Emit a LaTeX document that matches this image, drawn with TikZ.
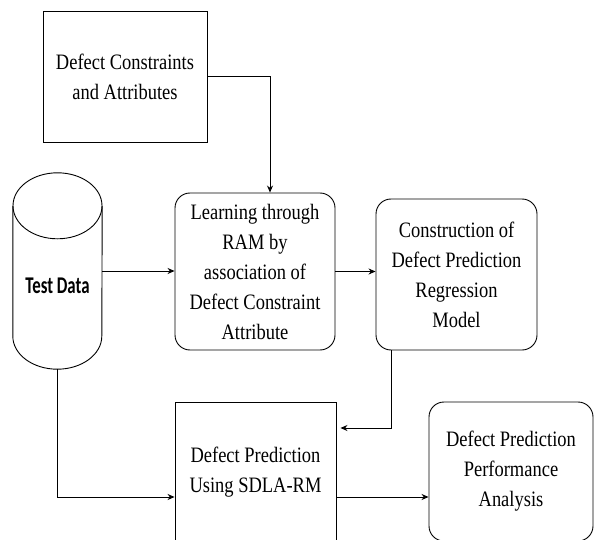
\documentclass[tikz,border=0pt]{standalone}
\usepackage{fontspec}
\setmainfont{Liberation Serif}[FakeStretch=0.84]
\newfontfamily\calibri{Carlito}[FakeStretch=0.7]
\usepackage{tikz}
\usetikzlibrary{arrows.meta, positioning, calc}

\begin{document}
\begin{tikzpicture}[x=1pt, y=-1pt, >={Stealth[length=7pt, width=6pt]},
    box/.style={draw, line width=0.9pt, align=center, inner sep=0pt, font=\fontsize{22}{30}\selectfont},
    rbox/.style={box, rounded corners=15pt},
    flow/.style={->, line width=0.9pt}]
    \clip (0,0) rectangle (594,540);

    \node[box, minimum width=164pt, minimum height=131pt] (dc) at (125,76.5) {Defect Constraints\\and Attributes};
    \node[rbox, minimum width=160pt, minimum height=157pt] (learn) at (255,271.5) {Learning through\\RAM by\\association of\\Defect Constraint\\Attribute};
    \node[rbox, minimum width=161pt, minimum height=151pt] (constr) at (456.5,274.5) {Construction of\\Defect Prediction\\Regression\\Model};
    \node[box, minimum width=161pt, minimum height=140pt] (pred) at (255.5,472) {Defect Prediction\\Using SDLA-RM};
    \node[rbox, minimum width=164pt, minimum height=139pt] (perf) at (511,471.5) {Defect Prediction\\Performance\\Analysis};

    % test data cylinder
    \node[minimum width=89pt, minimum height=196pt, inner sep=0pt] (test) at (57.5,271) {};
    \draw[line width=0.9pt] ([yshift=-33pt]test.north) ellipse [x radius=44.5pt, y radius=33pt];
    \draw[line width=0.9pt] ([yshift=-33pt]test.north west) -- ([yshift=33pt]test.south west)
        arc[start angle=180, end angle=360, x radius=44.5pt, y radius=33pt] -- ([yshift=-33pt]test.north east);
    \node[font=\calibri\bfseries\fontsize{24}{28}\selectfont] (tlabel) at ([yshift=-15pt]test.center) {Test Data};

    % connectors
    \draw[flow] (dc.east) -| ([xshift=15pt]learn.north);
    \draw[flow] (test.east) -- (test.east -| learn.west);
    \draw[flow] (learn.east) -- (learn.east -| constr.west);
    \draw[flow, shorten >=4pt] ([xshift=16pt]constr.south west) |- ([yshift=44pt]pred.east);
    \draw[flow] (test.south) |- ([yshift=-25pt]pred.west);
    \draw[flow] ([yshift=-25pt]pred.east) -- ([yshift=-25pt]pred.east -| perf.west);
\end{tikzpicture}
\end{document}
